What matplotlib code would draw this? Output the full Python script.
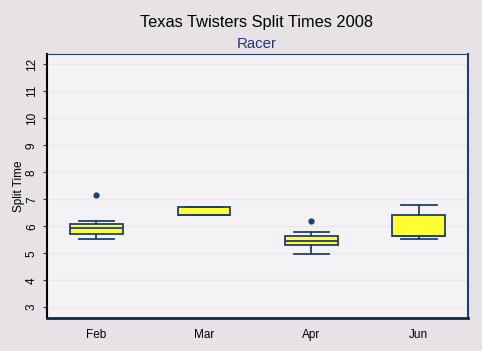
import matplotlib.pyplot as plt

# Box statistics
months = ["Feb", "Mar", "Apr", "Jun"]
q1 = [5.73, 6.43, 5.32, 5.63]
med = [5.95, 6.43, 5.44, 5.63]
q3 = [6.10, 6.73, 5.62, 6.43]
whislo = [5.51, 6.43, 4.99, 5.54]
whishi = [6.21, 6.73, 5.80, 6.77]
fliers = [[7.17], [], [6.20], []]

plt.rcParams['font.family'] = ['Liberation Sans', 'DejaVu Sans']

edge = "#1F3F6F"
fig = plt.figure(figsize=(4.82, 3.51), dpi=100, facecolor="#E6E2E6")
ax = fig.add_axes([0.0975, 0.094, 0.874, 0.752])
ax.set_facecolor("#F5F2F5")

stats = []
for i, m in enumerate(months):
    stats.append(dict(label=m, q1=q1[i], med=med[i], q3=q3[i],
                      whislo=whislo[i], whishi=whishi[i], fliers=fliers[i]))

ax.bxp(stats, positions=range(1, 5), widths=0.49, capwidths=0.33,
       patch_artist=True,
       boxprops=dict(facecolor="#FFFF33", edgecolor=edge, linewidth=1.3),
       medianprops=dict(color=edge, linewidth=1.3),
       whiskerprops=dict(color=edge, linewidth=1.3),
       capprops=dict(color=edge, linewidth=1.3),
       flierprops=dict(marker="o", markersize=3.5, markerfacecolor=edge,
                       markeredgecolor=edge))

ax.set_xlim(0.54, 4.46)
ax.set_ylim(2.6, 12.38)
ax.set_yticks(range(3, 13))
ax.yaxis.grid(True, color="#ECE8EC", linewidth=1)
ax.set_axisbelow(True)

for lbl in ax.get_yticklabels():
    lbl.set_rotation(90)
    lbl.set_va("center")
ax.tick_params(axis="y", labelsize=8.5, length=3, color="#333333")
ax.tick_params(axis="x", labelsize=8.5, length=0, pad=8)
ax.set_ylabel("Split Time", fontsize=8.5, labelpad=1)

ax.spines["left"].set_color("black")
ax.spines["left"].set_linewidth(1.5)
ax.spines["bottom"].set_color("#0F2A45")
ax.spines["bottom"].set_linewidth(2)
ax.spines["top"].set_color(edge)
ax.spines["right"].set_color(edge)
ax.spines["right"].set_linewidth(1.5)

fig.text(0.533, 0.935, "Texas Twisters Split Times 2008", ha="center",
         va="center", fontsize=11.8)
fig.text(0.533, 0.875, "Racer", ha="center", va="center", fontsize=10.8,
         color="#1F3A6F")

fig.savefig("out.png", dpi=100, facecolor=fig.get_facecolor())
